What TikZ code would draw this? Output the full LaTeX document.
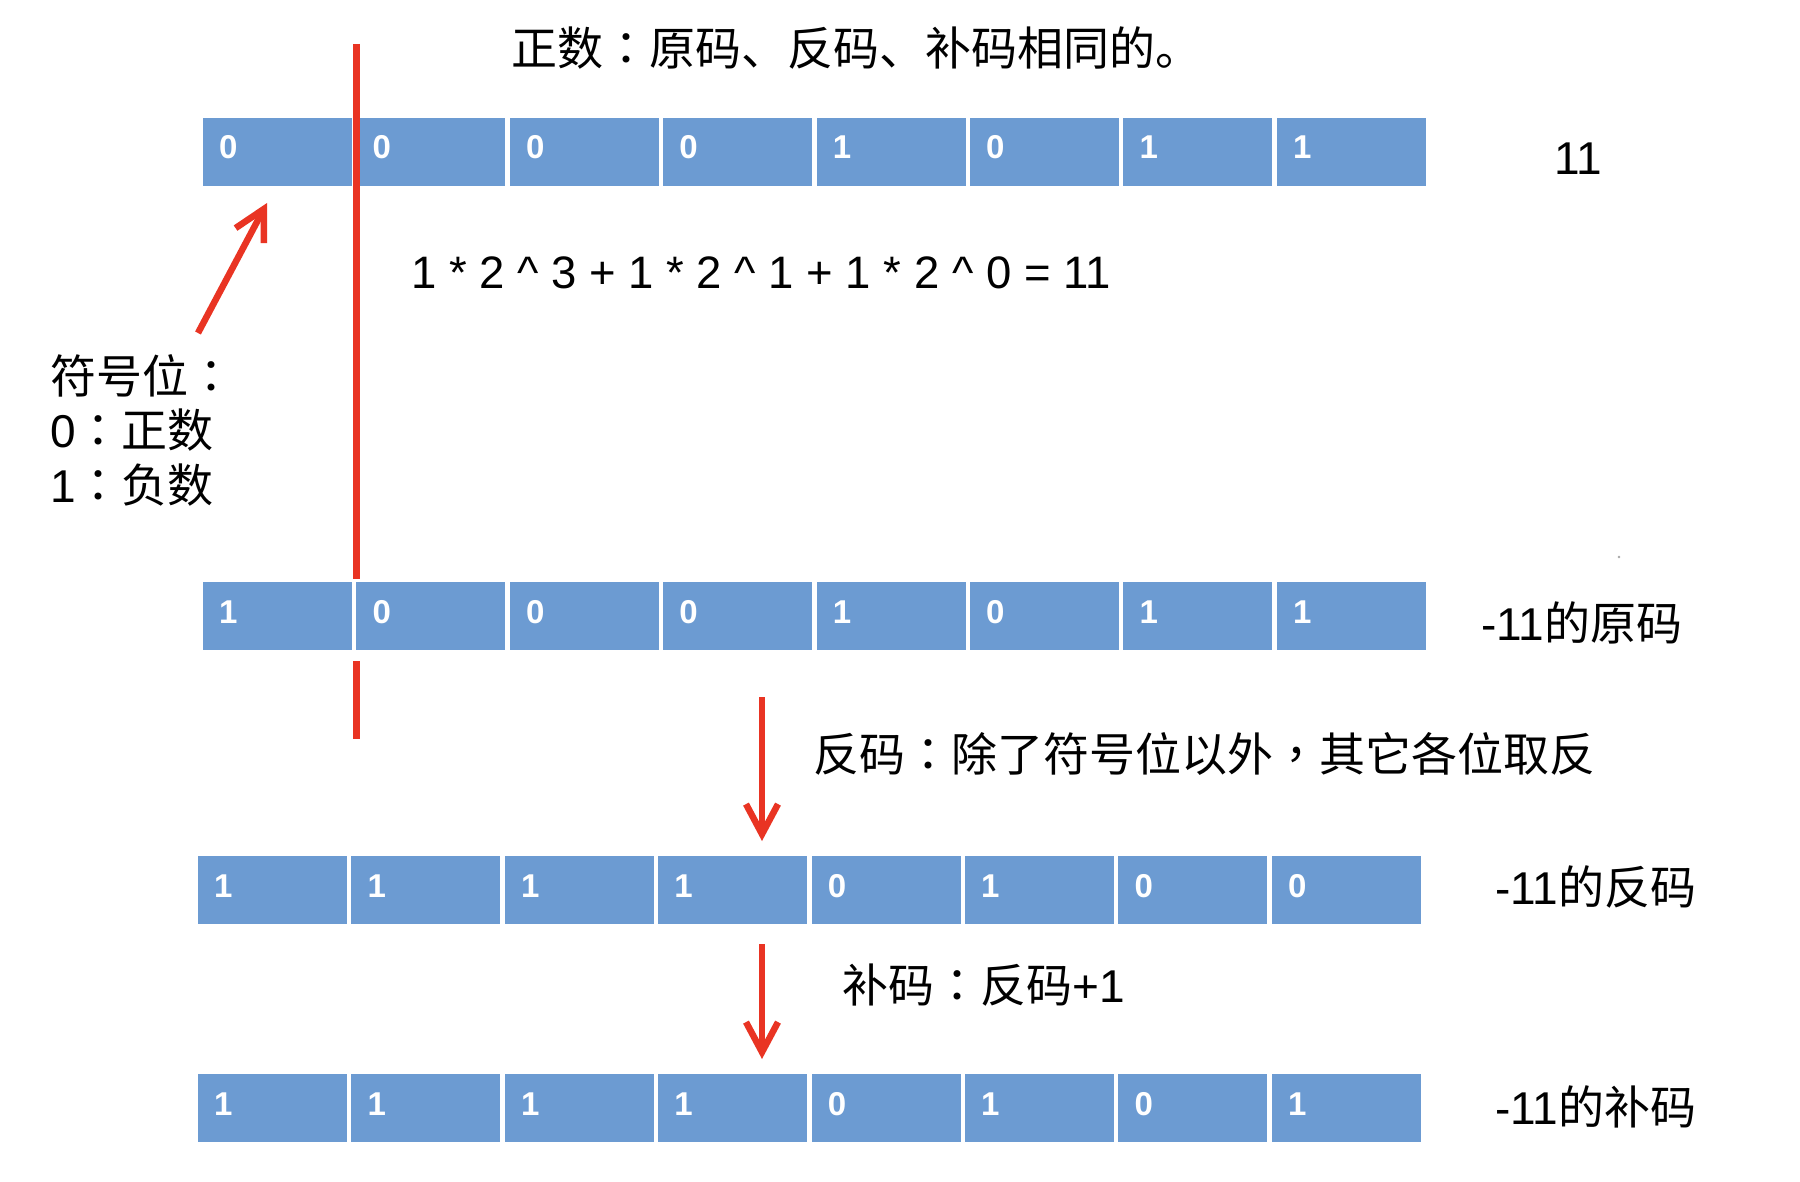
\documentclass[tikz,border=0pt]{standalone}
\usepackage{fontspec}
\setmainfont{Liberation Sans}
\newfontfamily\cjk{Noto Sans CJK SC}
\newfontfamily\cjkc{Noto Sans CJK TC}
\usetikzlibrary{arrows.meta}
\definecolor{cellblue}{RGB}{108,155,210}
\definecolor{lineRed}{RGB}{233,52,35}
\newcommand{\cc}{{\cjkc ：}}
\newcommand{\cm}{{\cjkc ，}}
\begin{document}
\begin{tikzpicture}[x=1pt,y=-1pt,
  cell/.style={fill=cellblue, draw=none, minimum width=149pt, minimum height=68pt, inner sep=0pt, outer sep=0pt, anchor=north west},
  bit/.style={text=white, font=\fontsize{33}{33}\selectfont\bfseries, anchor=base west, inner sep=0pt},
  lbl/.style={font=\fontsize{46}{55}\selectfont, anchor=base west, inner sep=0pt, text=black},
  redline/.style={draw=lineRed, line width=7pt},
  redarrow/.style={draw=lineRed, line width=6.5pt, -{Straight Barb[length=30pt,width=32pt]}}
]
\useasboundingbox[fill=white] (0,0) rectangle (1800,1182);

% rows of bits
\foreach \r/\x/\y/\bits in {1/203/118/{0,0,0,0,1,0,1,1},2/203/582/{1,0,0,0,1,0,1,1},3/198/856/{1,1,1,1,0,1,0,0},4/198/1074/{1,1,1,1,0,1,0,1}}{
  \foreach \b [count=\i] in \bits {
    \node[cell] (r\r-\i) at ({\x+(\i-1)*153.4},\y) {};
    \node[bit] (b\r-\i) at ([xshift=16pt,yshift=-41pt]r\r-\i.north west) {\b};
  }
}

% red vertical lines
\coordinate (vtop) at (356,44);
\coordinate (vbot) at (356,579);
\coordinate (stop) at (356,661);
\coordinate (sbot) at (356,739);
\draw[redline] (vtop) -- (vbot);
\draw[redline] (stop) -- (sbot);

% texts
\node[lbl] (title) at (511,66) {\cjk 正数\cc 原码、反码、补码相同的。};
\node[lbl, font=\fontsize{45.5}{55}\selectfont] (eq) at (411,289) {1 * 2 \textasciicircum{} 3 + 1 * 2 \textasciicircum{} 1 + 1 * 2 \textasciicircum{} 0 = 11};
\node[lbl] (v11) at (1554,175) {11};
\node[lbl] (sg1) at (50,393) {\cjk 符号位\cc};
\node[lbl] (sg2) at (50,447) {0\cc{\cjk 正数}};
\node[lbl] (sg3) at (50,502) {1\cc{\cjk 负数}};
\node[lbl] (yuan) at (1481,640) {-11{\cjk 的原码}};
\node[lbl] (fanrule) at (813,771) {\cjk 反码\cc 除了符号位以外\cm 其它各位取反};
\node[lbl] (fan) at (1495,904) {-11{\cjk 的反码}};
\node[lbl] (burule) at (842,1002) {{\cjk 补码\cc 反码}+1};
\node[lbl] (bu) at (1495,1124) {-11{\cjk 的补码}};

% arrows
\coordinate (sgtail) at (198,333);
\coordinate (sgtip) at (267,203);
\draw[redarrow] (sgtail) -- (sgtip);
\coordinate (a1s) at (762,697);
\coordinate (a1e) at (762,841);
\draw[redarrow] (a1s) -- (a1e);
\coordinate (a2s) at (762,944);
\coordinate (a2e) at (762,1059);
\draw[redarrow] (a2s) -- (a2e);

% speck
\fill[gray!70] (1619,557) circle (1.3pt);
\end{tikzpicture}
\end{document}
